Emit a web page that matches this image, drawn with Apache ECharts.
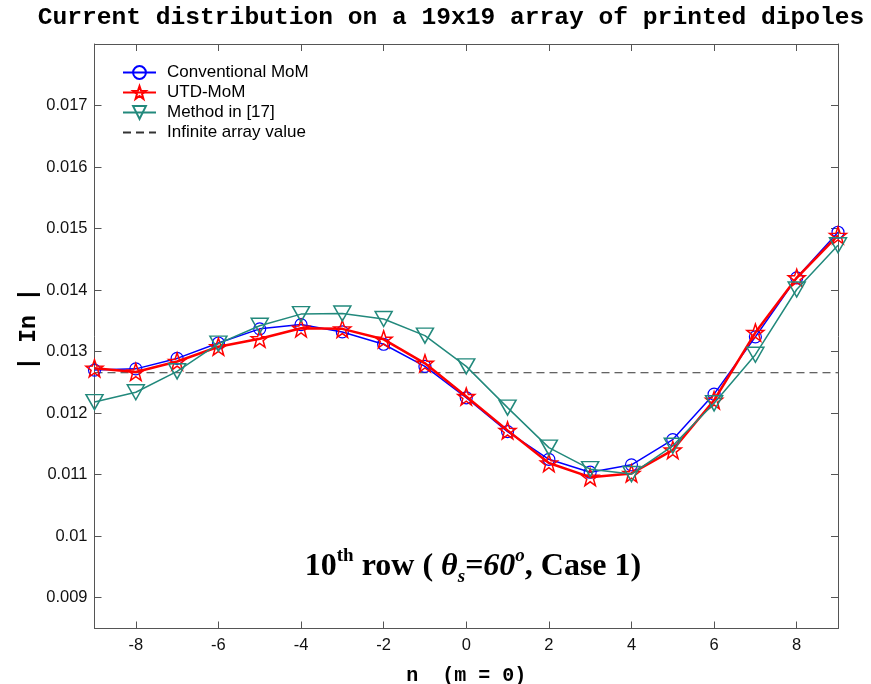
<!DOCTYPE html>
<html>
<head>
<meta charset="utf-8">
<script src="https://cdn.jsdelivr.net/npm/echarts@6/dist/echarts.min.js"></script>
<style>html,body{margin:0;padding:0;background:#fff}#c{width:871px;height:684px}</style>
</head>
<body>
<div id="c"></div>
<script>
var nValues = [-9,-8,-7,-6,-5,-4,-3,-2,-1,0,1,2,3,4,5,6,7,8,9];
var conventionalMoM = [0.01270,0.01272,0.01289,0.01314,0.01337,0.01344,0.01332,0.01312,0.01276,0.01225,0.01170,0.01125,0.01104,0.01116,0.01157,0.01231,0.01324,0.01420,0.01494];
var utdMoM = [0.01273,0.01267,0.01284,0.01308,0.01321,0.01338,0.01337,0.01320,0.01281,0.01227,0.01172,0.01119,0.01096,0.01102,0.01140,0.01221,0.01331,0.01420,0.01489];
var method17 = [0.01218,0.01234,0.01268,0.01313,0.01342,0.01361,0.01362,0.01353,0.01326,0.01276,0.01209,0.01144,0.01109,0.01101,0.01147,0.01216,0.01295,0.01401,0.01473];
var infiniteArrayValue = 0.012657;
var xTicks = [-8,-6,-4,-2,0,2,4,6,8];
var yTicks = [0.009,0.010,0.011,0.012,0.013,0.014,0.015,0.016,0.017];

function pairs(vals){ return nValues.map(function(n,i){ return [n, vals[i]]; }); }

var starPath = 'path://M0,-10 L2.35,-3.24 L9.51,-3.09 L3.8,1.24 L5.88,8.09 L0,4 L-5.88,8.09 L-3.8,1.24 L-9.51,-3.09 L-2.35,-3.24 Z';
var axisColor = '#555';
var teal = '#22897c';

var chart = echarts.init(document.getElementById('c'), null, {renderer:'canvas'});
var xBase = {type:'value', min:-9, max:9, splitLine:{show:false},
  axisLine:{show:true, onZero:false, lineStyle:{color:axisColor, width:1}},
  axisTick:{show:true, inside:true, length:7, customValues:xTicks, lineStyle:{color:axisColor}}};
var yBase = {type:'value', min:0.0085, max:0.018, splitLine:{show:false},
  axisLine:{show:true, onZero:false, lineStyle:{color:axisColor, width:1}},
  axisTick:{show:true, inside:true, length:7, customValues:yTicks, lineStyle:{color:axisColor}}};

var option = {
  animation:false,
  backgroundColor:'#fff',
  grid:{left:94.5, right:33, top:44, bottom:55.5, containLabel:false, outerBoundsMode:'none'},
  legend:{
    orient:'vertical', left:117, top:59, itemWidth:33, itemHeight:16, itemGap:3,
    selectedMode:false, backgroundColor:'transparent',
    textStyle:{fontFamily:'Liberation Sans', fontSize:17, lineHeight:16, color:'#000', padding:[0,0,0,6]},
    data:['Conventional MoM','UTD-MoM','Method in [17]',
      {name:'Infinite array value', itemStyle:{color:'rgba(0,0,0,0)', borderColor:'rgba(0,0,0,0)', borderWidth:0}}]
  },
  xAxis:[
    Object.assign({}, xBase, {position:'bottom',
      axisLabel:{show:true, customValues:xTicks, fontFamily:'Liberation Sans', fontSize:16.5, color:'#111', margin:8},
      name:'n  (m = 0)', nameLocation:'middle', nameGap:37,
      nameTextStyle:{fontFamily:'Liberation Mono', fontWeight:'bold', fontSize:20, color:'#000'}}),
    Object.assign({}, xBase, {position:'top', axisLabel:{show:false}})
  ],
  yAxis:[
    Object.assign({}, yBase, {position:'left',
      axisLabel:{show:true, customValues:yTicks, fontFamily:'Liberation Sans', fontSize:16.5, color:'#111', margin:7,
        formatter:function(v){ return String(parseFloat(v.toFixed(3))); }}}),
    Object.assign({}, yBase, {position:'right', axisLabel:{show:false}})
  ],
  graphic:[
    {type:'text', x:451, y:18, style:{text:'Current distribution on a 19x19 array of printed dipoles',
      align:'center', verticalAlign:'middle',
      fontFamily:'Liberation Mono', fontWeight:'bold', fontSize:24.6, fill:'#000'}},
    {type:'text', x:29, y:329, rotation:Math.PI/2, style:{text:'| In |',
      align:'center', verticalAlign:'middle',
      fontFamily:'Liberation Mono', fontWeight:'bold', fontSize:23, fill:'#000'}},
    {type:'text', x:473, y:567, style:{
      text:'{b|10}{sup|th}{b| row ( }{i|θ}{sub|s}{i|=60}{supi|o}{b|, Case 1)}',
      align:'center', verticalAlign:'middle',
      rich:{
        b:{fontFamily:'Liberation Serif', fontWeight:'bold', fontSize:32, lineHeight:40, fill:'#000'},
        i:{fontFamily:'Liberation Serif', fontWeight:'bold', fontStyle:'italic', fontSize:32, lineHeight:40, fill:'#000'},
        sup:{fontFamily:'Liberation Serif', fontWeight:'bold', fontSize:19, lineHeight:22, verticalAlign:'top', fill:'#000'},
        supi:{fontFamily:'Liberation Serif', fontWeight:'bold', fontStyle:'italic', fontSize:19, lineHeight:22, verticalAlign:'top', fill:'#000'},
        sub:{fontFamily:'Liberation Serif', fontWeight:'bold', fontStyle:'italic', fontSize:19, lineHeight:20, verticalAlign:'bottom', fill:'#000'}
      }}}
  ],
  series:[
    {name:'Conventional MoM', type:'line', data:pairs(conventionalMoM), symbol:'circle', symbolSize:12,
      lineStyle:{color:'#0000ff', width:1.5}, itemStyle:{color:'rgba(0,0,0,0)', borderColor:'#0000ff', borderWidth:1.2}, z:3},
    {name:'UTD-MoM', type:'line', data:pairs(utdMoM), symbol:starPath, symbolSize:17,
      lineStyle:{color:'#ff0000', width:2.5}, itemStyle:{color:'rgba(0,0,0,0)', borderColor:'#ff0000', borderWidth:1.5}, z:4},
    {name:'Method in [17]', type:'line', data:pairs(method17), symbol:'triangle', symbolRotate:180, symbolSize:[17,15],
      lineStyle:{color:teal, width:1.5}, itemStyle:{color:'rgba(0,0,0,0)', borderColor:teal, borderWidth:1.5}, z:5},
    {name:'Infinite array value', type:'line', data:[[-9, infiniteArrayValue],[9, infiniteArrayValue]], symbol:'none',
      lineStyle:{color:'#333', width:1, type:[8,5]}, itemStyle:{color:'#333'}, z:2}
  ]
};
chart.setOption(option);
</script>
</body>
</html>
